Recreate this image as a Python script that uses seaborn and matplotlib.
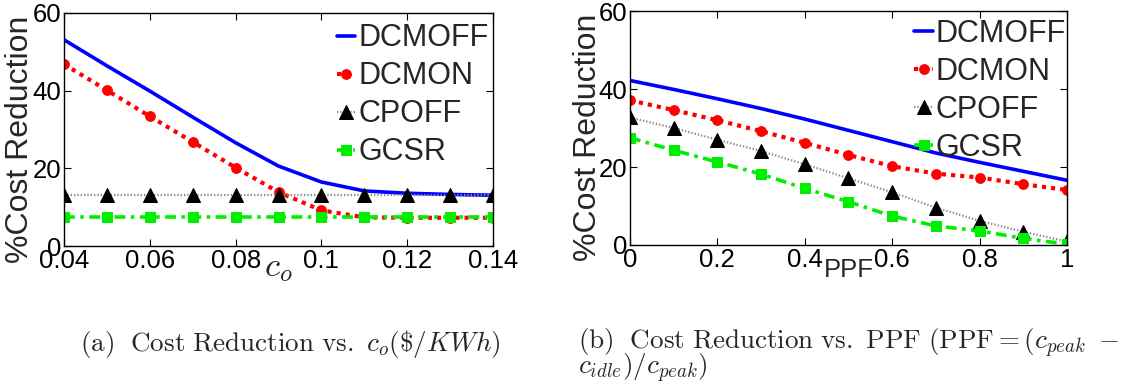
import matplotlib
matplotlib.use("Agg")
import matplotlib.pyplot as plt
import seaborn as sns
import numpy as np
import pandas as pd

# ---- data ----
co = [0.04, 0.05, 0.06, 0.07, 0.08, 0.09, 0.10, 0.11, 0.12, 0.13, 0.14]
a_dcmoff = [53.1, 46.4, 39.9, 33.2, 26.6, 20.6, 16.5, 14.2, 13.6, 13.3, 13.1]
a_dcmon = [46.8, 40.1, 33.4, 26.8, 20.2, 13.9, 9.2, 7.4, 7.3, 7.3, 7.3]
a_cpoff = [13.2, 13.2, 13.2, 13.2, 13.2, 13.2, 13.2, 13.2, 13.2, 13.2, 13.2]
a_gcsr = [7.4, 7.4, 7.4, 7.4, 7.4, 7.4, 7.4, 7.4, 7.4, 7.4, 7.4]

ppf = [0.0, 0.1, 0.2, 0.3, 0.4, 0.5, 0.6, 0.7, 0.8, 0.9, 1.0]
b_dcmoff = [42.2, 39.9, 37.5, 35.0, 32.3, 29.4, 26.5, 23.6, 21.2, 18.9, 16.6]
b_dcmon = [37.1, 34.6, 32.0, 29.2, 26.2, 23.1, 20.2, 18.3, 17.3, 15.6, 14.1]
b_cpoff = [32.7, 30.0, 27.0, 24.1, 20.7, 17.1, 13.5, 9.6, 6.2, 3.4, 0.9]
b_gcsr = [27.5, 24.3, 21.3, 18.2, 14.5, 11.1, 7.4, 4.9, 3.6, 1.7, 0.2]

series_names = ["DCMOFF", "DCMON", "CPOFF", "GCSR"]
a_ticks = [0.04, 0.06, 0.08, 0.10, 0.12, 0.14]
a_ticklabels = ["0.04", "0.06", "0.08", "0.1", "0.12", "0.14"]
b_ticks = [0, 0.2, 0.4, 0.6, 0.8, 1.0]
b_ticklabels = ["0", "0.2", "0.4", "0.6", "0.8", "1"]
y_ticks = [0, 20, 40, 60]

sns.set_style("ticks")
plt.rcParams["font.family"] = ["Liberation Sans", "DejaVu Sans"]
plt.rcParams["mathtext.fontset"] = "cm"

styles = {
    "DCMOFF": dict(color="#0000ff", linestyle="-", linewidth=2.6, marker=None),
    "DCMON": dict(color="#ff0000", linestyle=(0, (1, 1.2)), linewidth=3.0, marker="o",
                  markersize=7, markeredgecolor="#ff0000"),
    "CPOFF": dict(color="#888888", linestyle=(0, (0.6, 0.9)), linewidth=1.6, marker="^",
                  markersize=10, markerfacecolor="black", markeredgecolor="black"),
    "GCSR": dict(color="#00ee00", linestyle=(0, (3, 1.5, 1, 1.5)), linewidth=2.6, marker="s",
                 markersize=7, markeredgecolor="#00ee00"),
}

fig = plt.figure(figsize=(11.35, 3.81), dpi=100)
axA = fig.add_axes([0.0564, 0.354, 0.378, 0.612])
axB = fig.add_axes([0.555, 0.357, 0.385, 0.614])

def draw(ax, x, ys):
    for name, y in zip(series_names, ys):
        df = pd.DataFrame({"x": x, "y": y})
        sns.lineplot(data=df, x="x", y="y", ax=ax, label=name, **styles[name])

draw(axA, co, [a_dcmoff, a_dcmon, a_cpoff, a_gcsr])
draw(axB, ppf, [b_dcmoff, b_dcmon, b_cpoff, b_gcsr])

for ax in (axA, axB):
    ax.set_ylim(0, 60)
    ax.set_yticks(y_ticks)
    for s in ax.spines.values():
        s.set_visible(True)
        s.set_color("black")
        s.set_linewidth(1.0)
    ax.tick_params(direction="in", top=True, right=True, length=5, width=0.8,
                   labelsize=18.5, pad=2, colors="black")
    ax.set_ylabel("%Cost Reduction", fontsize=23, va="center")

axA.set_xlim(0.04, 0.14)
axA.set_xticks(a_ticks)
axA.set_xticklabels(a_ticklabels)
axB.set_xlim(0, 1)
axB.set_xticks(b_ticks)
axB.set_xticklabels(b_ticklabels)

axA.set_xlabel("$c_o$", fontsize=25)
axA.xaxis.set_label_coords(0.5, -0.02, transform=axA.transAxes)
axA.xaxis.label.set_va("top")
axB.set_xlabel("PPF", fontsize=18.5)
axB.xaxis.set_label_coords(0.5, -0.055, transform=axB.transAxes)
axB.xaxis.label.set_va("top")

axA.yaxis.set_label_coords(-0.103, 0.46)
axB.yaxis.set_label_coords(-0.096, 0.46)

for ax, anchor in ((axA, (0.997, 0.968)), (axB, (1.005, 0.979))):
    ax.legend(loc="upper right", bbox_to_anchor=anchor, frameon=False, fontsize=22,
              handlelength=0.6, handletextpad=0.1, labelspacing=0.26, borderpad=0.1,
              borderaxespad=0.0)

fig.text(0.0705, 0.098, r"$\mathrm{(a)\ \ Cost\ Reduction\ vs.\ }c_o\mathrm{(\$/}KWh\mathrm{)}$",
         fontsize=19.5, va="center", ha="left")
fig.text(0.509, 0.098, r"$\mathrm{(b)\ \ Cost\ Reduction\ vs.\ PPF\ (PPF{=}(}c_{peak}\ -$",
         fontsize=19.5, va="center", ha="left")
fig.text(0.509, 0.034, r"$c_{idle})/c_{peak})$", fontsize=19.5, va="center", ha="left")

fig.savefig("out.png", dpi=100)
